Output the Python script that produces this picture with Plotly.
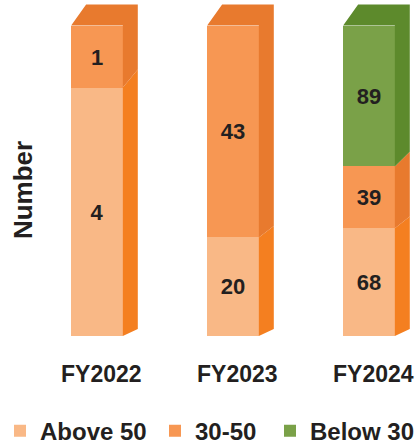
import plotly.graph_objects as go

categories = ["FY2022", "FY2023", "FY2024"]
series_names = ["Above 50", "30-50", "Below 30"]
above_50 = [4, 20, 68]
mid_30_50 = [1, 43, 39]
below_30 = [0, 0, 89]

front_colors = ["#F9B886", "#F79753", "#7AA148"]
side_colors = ["#F47F20", "#E87A2E", "#5D8A2C"]
legend_widths = [110, 70, 104]

series = [above_50, mid_30_50, below_30]
n = len(categories)
totals = [sum(s[i] for s in series) for i in range(n)]
pcts = [[100.0 * s[i] / totals[i] for i in range(n)] for s in series]

xs = list(range(n))
W = 0.38          # front face width (x units)
DX = 0.11         # depth in x units
PXU = 3.105       # pixels per percent


def rise(h):
    # perspective depth rise (in % units) at height h
    return (7 + 14 * h / 100.0) / PXU


fig = go.Figure()

for k, name in enumerate(series_names):
    fig.add_trace(go.Bar(
        x=xs, y=pcts[k], width=W, name=name,
        marker=dict(color=front_colors[k], line=dict(width=0)),
        customdata=series[k],
        text=[str(v) if v > 0 else "" for v in series[k]],
        textposition="inside", insidetextanchor="middle",
        textfont=dict(size=22, color="#231F20", family="Liberation Sans, Arial", weight="bold"),
        legendwidth=legend_widths[k],
        hoverinfo="skip",
    ))

# side and top faces
for k, name in enumerate(series_names):
    px_, py_ = [], []
    tx, ty = [], []
    for i in range(n):
        base = sum(pcts[j][i] for j in range(k))
        top = base + pcts[k][i]
        if pcts[k][i] <= 0:
            continue
        xr = xs[i] + W / 2
        xl = xs[i] - W / 2
        px_ += [xr, xr + DX, xr + DX, xr, xr, None]
        py_ += [base, base + rise(base), top + rise(top), top, base, None]
        is_top = all(pcts[j][i] <= 0 for j in range(k + 1, len(series)))
        if is_top:
            tx += [xl, xr, xr + DX, xl + DX, xl, None]
            ty += [top, top, top + rise(top), top + rise(top), top, None]
    fig.add_trace(go.Scatter(x=px_ + tx, y=py_ + ty, mode="lines", fill="toself",
                             fillcolor=side_colors[k], line=dict(width=0, color=side_colors[k]),
                             showlegend=False, hoverinfo="skip"))

for i, c in enumerate(categories):
    fig.add_annotation(x=xs[i] + 0.03, y=0, xref="x", yref="y", text=c, showarrow=False,
                       yanchor="middle", yshift=-38,
                       font=dict(size=23, color="#231F20", family="Liberation Sans, Arial", weight="bold"))

fig.add_annotation(x=23 / 420, y=47, xref="paper", yref="y", text="Number", textangle=-90,
                   showarrow=False, xanchor="center", yanchor="middle",
                   font=dict(size=26, color="#231F20", family="Liberation Sans, Arial", weight="bold"))

fig.update_layout(
    width=420, height=446,
    margin=dict(l=0, r=0, t=0, b=110, autoexpand=False),
    barmode="stack", bargap=0,
    plot_bgcolor="white", paper_bgcolor="white",
    xaxis=dict(range=[-97 / 136, 323 / 136], visible=False, fixedrange=True),
    yaxis=dict(range=[0, 100 + 25.5 / PXU], visible=False, fixedrange=True),
    legend=dict(orientation="h", x=0, xanchor="left", y=-0.283, yanchor="middle",
                traceorder="normal",
                font=dict(size=24, color="#231F20", family="Liberation Sans, Arial", weight="bold")),
    showlegend=True,
)

fig.write_html("out.html", config={"displayModeBar": False},
               post_script="document.body.style.margin='0';")
